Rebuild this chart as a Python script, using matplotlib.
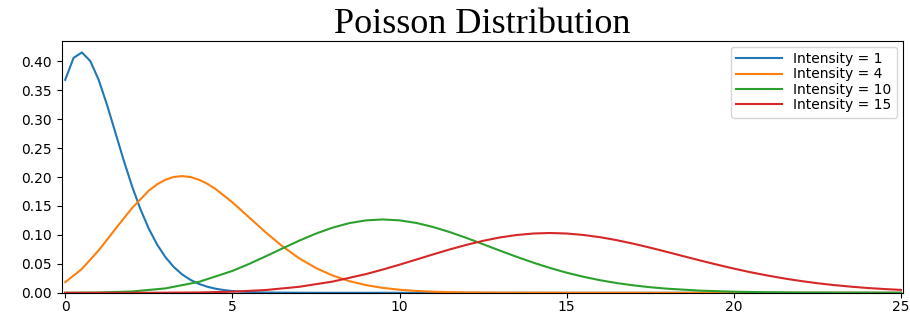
import matplotlib
matplotlib.use("Agg")
import matplotlib.pyplot as plt

# ── values (continuous Poisson curves) ──
x_i1 = [0, 0.25, 0.5, 0.75, 1, 1.25, 1.5, 1.75, 2, 2.25, 2.5, 2.75, 3, 3.25, 3.5,
        3.75, 4, 4.25, 4.5, 4.75, 5, 5.25, 5.5, 5.75, 6, 7, 8, 10, 15, 20, 25]
y_i1 = [0.3679, 0.4059, 0.4151, 0.4003, 0.3679, 0.3247, 0.2767, 0.2287, 0.1839,
        0.1443, 0.1107, 0.0832, 0.0613, 0.0444, 0.0316, 0.0222, 0.0153, 0.0105,
        0.0070, 0.0047, 0.0031, 0.0020, 0.0013, 0.0008, 0.0005, 0.0001, 0.0,
        0.0, 0.0, 0.0, 0.0]

x_i4 = [0, 0.5, 1, 1.5, 2, 2.5, 2.75, 3, 3.25, 3.5, 3.75, 4, 4.25, 4.5, 5, 5.5,
        6, 6.5, 7, 7.5, 8, 8.5, 9, 9.5, 10, 10.5, 11, 11.5, 12, 13, 14, 15, 20, 25]
y_i4 = [0.0183, 0.0413, 0.0733, 0.1102, 0.1465, 0.1764, 0.1874, 0.1954, 0.2001,
        0.2016, 0.1999, 0.1954, 0.1883, 0.1792, 0.1563, 0.1303, 0.1042, 0.0802,
        0.0595, 0.0428, 0.0298, 0.0201, 0.0132, 0.0085, 0.0053, 0.0032, 0.0019,
        0.0011, 0.0006, 0.0002, 0.0001, 0.0, 0.0, 0.0]

x_i10 = [0, 1, 2, 3, 4, 5, 5.5, 6, 6.5, 7, 7.5, 8, 8.5, 9, 9.5, 10, 10.5, 11,
         11.5, 12, 12.5, 13, 13.5, 14, 14.5, 15, 15.5, 16, 16.5, 17, 17.5, 18,
         19, 20, 21, 22, 23, 24, 25]
y_i10 = [0.0000, 0.0005, 0.0023, 0.0076, 0.0189, 0.0378, 0.0499, 0.0631, 0.0767,
         0.0901, 0.1023, 0.1126, 0.1204, 0.1251, 0.1267, 0.1251, 0.1207, 0.1137,
         0.1049, 0.0948, 0.0839, 0.0729, 0.0622, 0.0521, 0.0429, 0.0347, 0.0277,
         0.0217, 0.0168, 0.0128, 0.0096, 0.0071, 0.0037, 0.0019, 0.0009, 0.0004,
         0.0002, 0.0001, 0.0000]

x_i15 = [0, 2, 3, 4, 5, 6, 7, 8, 9, 9.5, 10, 10.5, 11, 11.5, 12, 12.5, 13, 13.5,
         14, 14.5, 15, 15.5, 16, 16.5, 17, 17.5, 18, 18.5, 19, 19.5, 20, 20.5,
         21, 21.5, 22, 22.5, 23, 23.5, 24, 24.5, 25]
y_i15 = [0.0000, 0.0000, 0.0002, 0.0006, 0.0019, 0.0048, 0.0104, 0.0194, 0.0324,
         0.0402, 0.0486, 0.0574, 0.0663, 0.0749, 0.0828, 0.0898, 0.0956, 0.0998,
         0.1024, 0.1033, 0.1024, 0.0999, 0.0960, 0.0909, 0.0847, 0.0779, 0.0706,
         0.0631, 0.0557, 0.0486, 0.0418, 0.0355, 0.0299, 0.0248, 0.0204, 0.0165,
         0.0133, 0.0106, 0.0083, 0.0065, 0.0050]

series = [
    (x_i1, y_i1, "Intensity = 1"),
    (x_i4, y_i4, "Intensity = 4"),
    (x_i10, y_i10, "Intensity = 10"),
    (x_i15, y_i15, "Intensity = 15"),
]
x_ticks = [0, 5, 10, 15, 20, 25]


def main():
    fig, ax = plt.subplots(figsize=(9.1, 3.2), dpi=100)
    fig.subplots_adjust(left=0.068, right=0.992, top=0.872, bottom=0.085)

    for xs, ys, label in series:
        ax.plot(xs, ys, linewidth=1.5, label=label)

    ax.set_xlim(-0.1, 25.05)
    ax.set_ylim(0, 0.435)
    ax.set_xticks(x_ticks)
    ax.tick_params(labelsize=10)
    ax.tick_params(axis="x", pad=2)

    ax.set_title("Poisson Distribution", fontsize=26,
                 fontfamily="Liberation Serif", pad=5)
    ax.legend(loc="upper right", fontsize=10, labelspacing=0.1,
              handlelength=3.3, borderaxespad=0.4)

    fig.savefig("out.png", dpi=100, facecolor="white")
    plt.close(fig)


if __name__ == "__main__":
    main()
